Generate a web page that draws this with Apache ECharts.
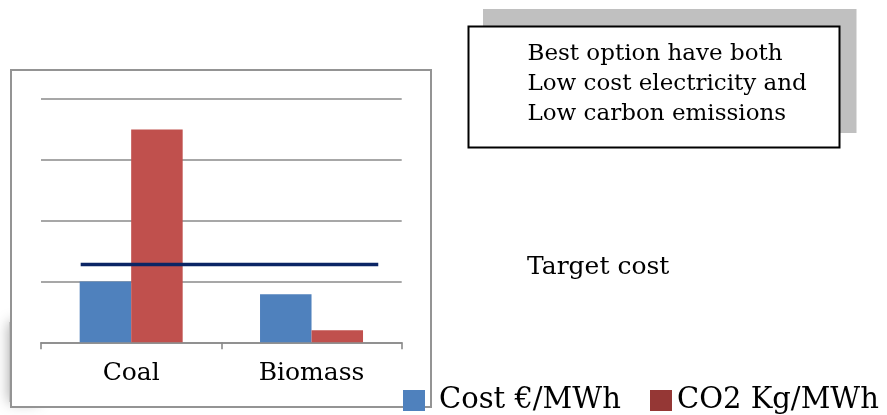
<!DOCTYPE html>
<html>
<head>
<meta charset="utf-8">
<script src="https://cdn.jsdelivr.net/npm/echarts@6/dist/echarts.min.js"></script>
<style>
  html, body { margin: 0; padding: 0; background: #fff; }
  #chart { width: 887px; height: 415px; }
</style>
</head>
<body>
<div id="chart"></div>
<script>
// Generation options compared on two measures
const categories = ['Coal', 'Biomass'];
const costValues = [1.0, 0.79];          // Cost €/MWh (relative units)
const co2Values = [3.5, 0.2];            // CO2 Kg/MWh (relative units)
const targetCost = 1.28;                 // target cost level
const targetSpan = [0.22, 1.87];         // horizontal extent of the target line, in category bands
const seriesNames = ['Cost €/MWh', 'CO2 Kg/MWh'];
const noteLines = ['Best option have both', 'Low cost electricity and', 'Low carbon emissions'];
const targetLabel = 'Target cost';

const serif = '"DejaVu Serif", "Liberation Serif", serif';
const gridGray = '#8a8a8a';

const chart = echarts.init(document.getElementById('chart'), null, { renderer: 'canvas' });

chart.setOption({
  animation: false,
  backgroundColor: '#ffffff',
  grid: { left: 41, right: 485.3, top: 99, bottom: 72.7, containLabel: false },
  xAxis: [
    {
      type: 'category',
      data: categories,
      axisLine: { lineStyle: { color: gridGray, width: 1.6 } },
      axisTick: { show: true, length: 7, lineStyle: { color: gridGray, width: 1.6 } },
      axisLabel: { color: '#000', fontFamily: serif, fontSize: 25, margin: 19 }
    },
    {
      // band-based value scale used to place the target line
      type: 'value', min: 0, max: 2, show: false
    }
  ],
  yAxis: {
    type: 'value', min: 0, max: 4, interval: 1,
    axisLabel: { show: false },
    axisLine: { show: false },
    axisTick: { show: false },
    splitLine: { lineStyle: { color: gridGray, width: 1.6 } }
  },
  legend: [
    {
      left: 403, top: 386, padding: 0,
      itemWidth: 22, itemHeight: 21,
      icon: 'rect',
      data: [{ name: seriesNames[0], itemStyle: { color: '#4f81bd' } }],
      textStyle: { fontFamily: serif, fontSize: 29, color: '#000', padding: [0, 0, 0, 9] }
    },
    {
      left: 650, top: 386, padding: 0,
      itemWidth: 22, itemHeight: 21,
      icon: 'rect',
      data: [{ name: seriesNames[1], itemStyle: { color: '#953735' } }],
      textStyle: { fontFamily: serif, fontSize: 29, color: '#000', padding: [0, 0, 0, 0] }
    }
  ],
  graphic: [
    // soft shadow at the lower left of the chart frame
    {
      type: 'rect', z: -20,
      shape: { x: 9, y: 322, width: 30, height: 80 },
      style: { fill: '#c4c4c4', shadowBlur: 14, shadowColor: 'rgba(0,0,0,0.35)' }
    },
    // chart frame
    {
      type: 'rect', z: -10,
      shape: { x: 11, y: 70, width: 420, height: 337 },
      style: { fill: '#ffffff', stroke: '#949494', lineWidth: 2 }
    },
    // note box with offset shadow
    {
      type: 'rect',
      shape: { x: 483, y: 9, width: 373.5, height: 124 },
      style: { fill: '#c0c0c0' }
    },
    {
      type: 'rect',
      shape: { x: 468.5, y: 26.5, width: 371, height: 121 },
      style: { fill: '#ffffff', stroke: '#000000', lineWidth: 2 }
    },
    {
      type: 'text',
      style: {
        x: 527.5, y: 39,
        text: noteLines.join('\n'),
        font: '23px ' + serif,
        lineHeight: 30,
        fill: '#000'
      }
    },
    {
      type: 'text',
      style: {
        x: 527, y: 267,
        text: targetLabel,
        font: '25px ' + serif,
        fill: '#000',
        verticalAlign: 'middle'
      }
    }
  ],
  series: [
    {
      name: seriesNames[0], type: 'bar', data: costValues,
      barWidth: 51.5, barGap: '0%',
      itemStyle: { color: '#4f81bd' }
    },
    {
      name: seriesNames[1], type: 'bar', data: co2Values,
      barWidth: 51.5, barGap: '0%',
      itemStyle: { color: '#c0504d' }
    },
    {
      name: 'target', type: 'line', xAxisIndex: 1,
      data: [[targetSpan[0], targetCost], [targetSpan[1], targetCost]],
      symbol: 'none',
      lineStyle: { color: '#0b2565', width: 3.6 },
      z: 5
    }
  ]
});
</script>
</body>
</html>
